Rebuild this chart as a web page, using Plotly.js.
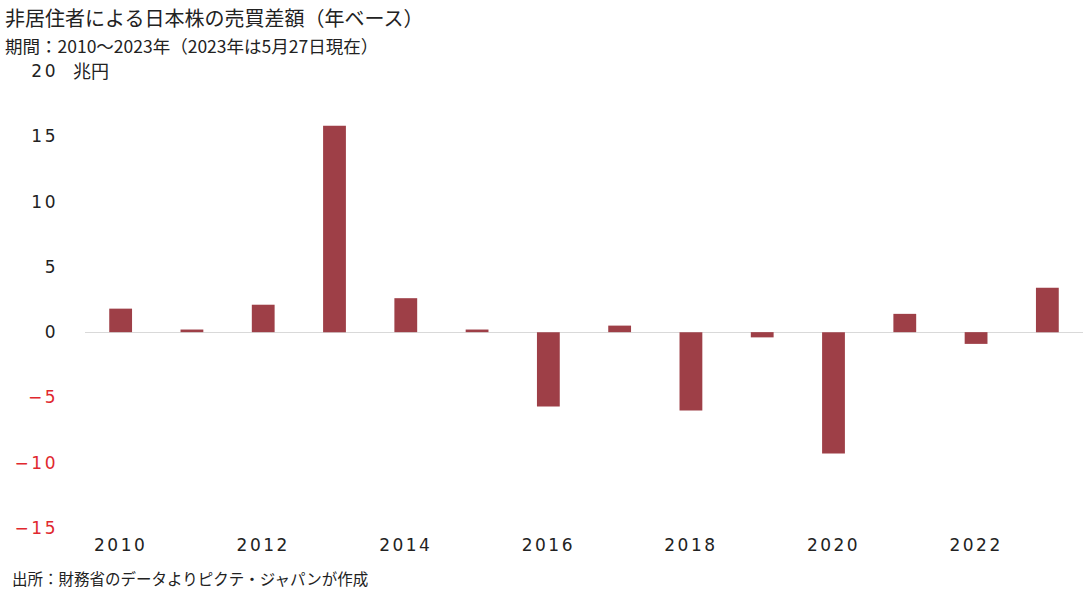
<!DOCTYPE html>
<html>
<head>
<meta charset="utf-8">
<script src="https://cdn.plot.ly/plotly-3.0.1.min.js"></script>
<style>
html,body{margin:0;padding:0;background:#fff;}
#chart{width:1086px;height:591px;}
#chart .xtick text, #chart .ytick text{letter-spacing:2.5px;}
</style>
</head>
<body>
<div id="chart"></div>
<script>
const years = [2010,2011,2012,2013,2014,2015,2016,2017,2018,2019,2020,2021,2022,2023];
const netBuy = [1.8,0.2,2.1,15.8,2.6,0.2,-5.7,0.5,-6.0,-0.4,-9.3,1.4,-0.9,3.4];
const xTickVals = [2010,2012,2014,2016,2018,2020,2022];
const yTickVals = [20,15,10,5,0,-5,-10,-15];
const yTickText = ['20','15','10','5','0','−5','−10','−15'];
const titleText = '非居住者による日本株の売買差額（年ベース）';
const subtitleText = '期間：2010～2023年（2023年は5月27日現在）';
const unitText = '兆円';
const sourceText = '出所：財務省のデータよりピクテ・ジャパンが作成';

const red = '#e0282e';
const font = '"Noto Sans CJK JP", "Noto Sans", sans-serif';
const tickFamily = '"DejaVu Sans", sans-serif';

const trace = {
  type: 'bar',
  x: years,
  y: netBuy,
  width: 0.32,
  marker: {color: '#9e3f47'},
  hoverinfo: 'x+y'
};

const layout = {
  width: 1086, height: 591,
  margin: {l: 85, r: 3, t: 71, b: 63},
  paper_bgcolor: '#fff', plot_bgcolor: '#fff',
  showlegend: false,
  font: {family: font, color: '#222'},
  xaxis: {
    range: [2009.5, 2023.5],
    tickvals: xTickVals,
    ticktext: xTickVals.map(String),
    showgrid: false, zeroline: false, showline: false, ticks: '',
    ticklabelstandoff: 5,
    tickfont: {size: 17, color: '#222', family: tickFamily}
  },
  yaxis: {
    range: [-15, 20],
    tickvals: yTickVals,
    ticktext: yTickText.map((t, i) => yTickVals[i] < 0 ? '<span style="color:' + red + '">' + t + '</span>' : t),
    showgrid: false, zeroline: true, zerolinecolor: '#d9d9d9', zerolinewidth: 1,
    showline: false, ticks: '', ticklabelstandoff: 26,
    tickfont: {size: 17, color: '#222', family: tickFamily}
  },
  annotations: [
    {xref: 'paper', yref: 'paper', x: 0, y: 1, xanchor: 'left', yanchor: 'middle',
     xshift: -14, yshift: 1, text: unitText, showarrow: false, font: {size: 18, color: '#222', family: font}},
    {xref: 'paper', yref: 'paper', x: 0, y: 1, xanchor: 'left', yanchor: 'middle',
     xshift: -82, yshift: 54, text: titleText, showarrow: false, font: {size: 20, color: '#222', family: font}},
    {xref: 'paper', yref: 'paper', x: 0, y: 1, xanchor: 'left', yanchor: 'middle',
     xshift: -82, yshift: 26, text: subtitleText, showarrow: false, font: {size: 17.5, color: '#222', family: font}},
    {xref: 'paper', yref: 'paper', x: 0, y: 0, xanchor: 'left', yanchor: 'middle',
     xshift: -75, yshift: -50, text: sourceText, showarrow: false, font: {size: 15.5, color: '#222', family: font}}
  ]
};

Plotly.newPlot('chart', [trace], layout, {displayModeBar: false, staticPlot: true});
</script>
</body>
</html>
